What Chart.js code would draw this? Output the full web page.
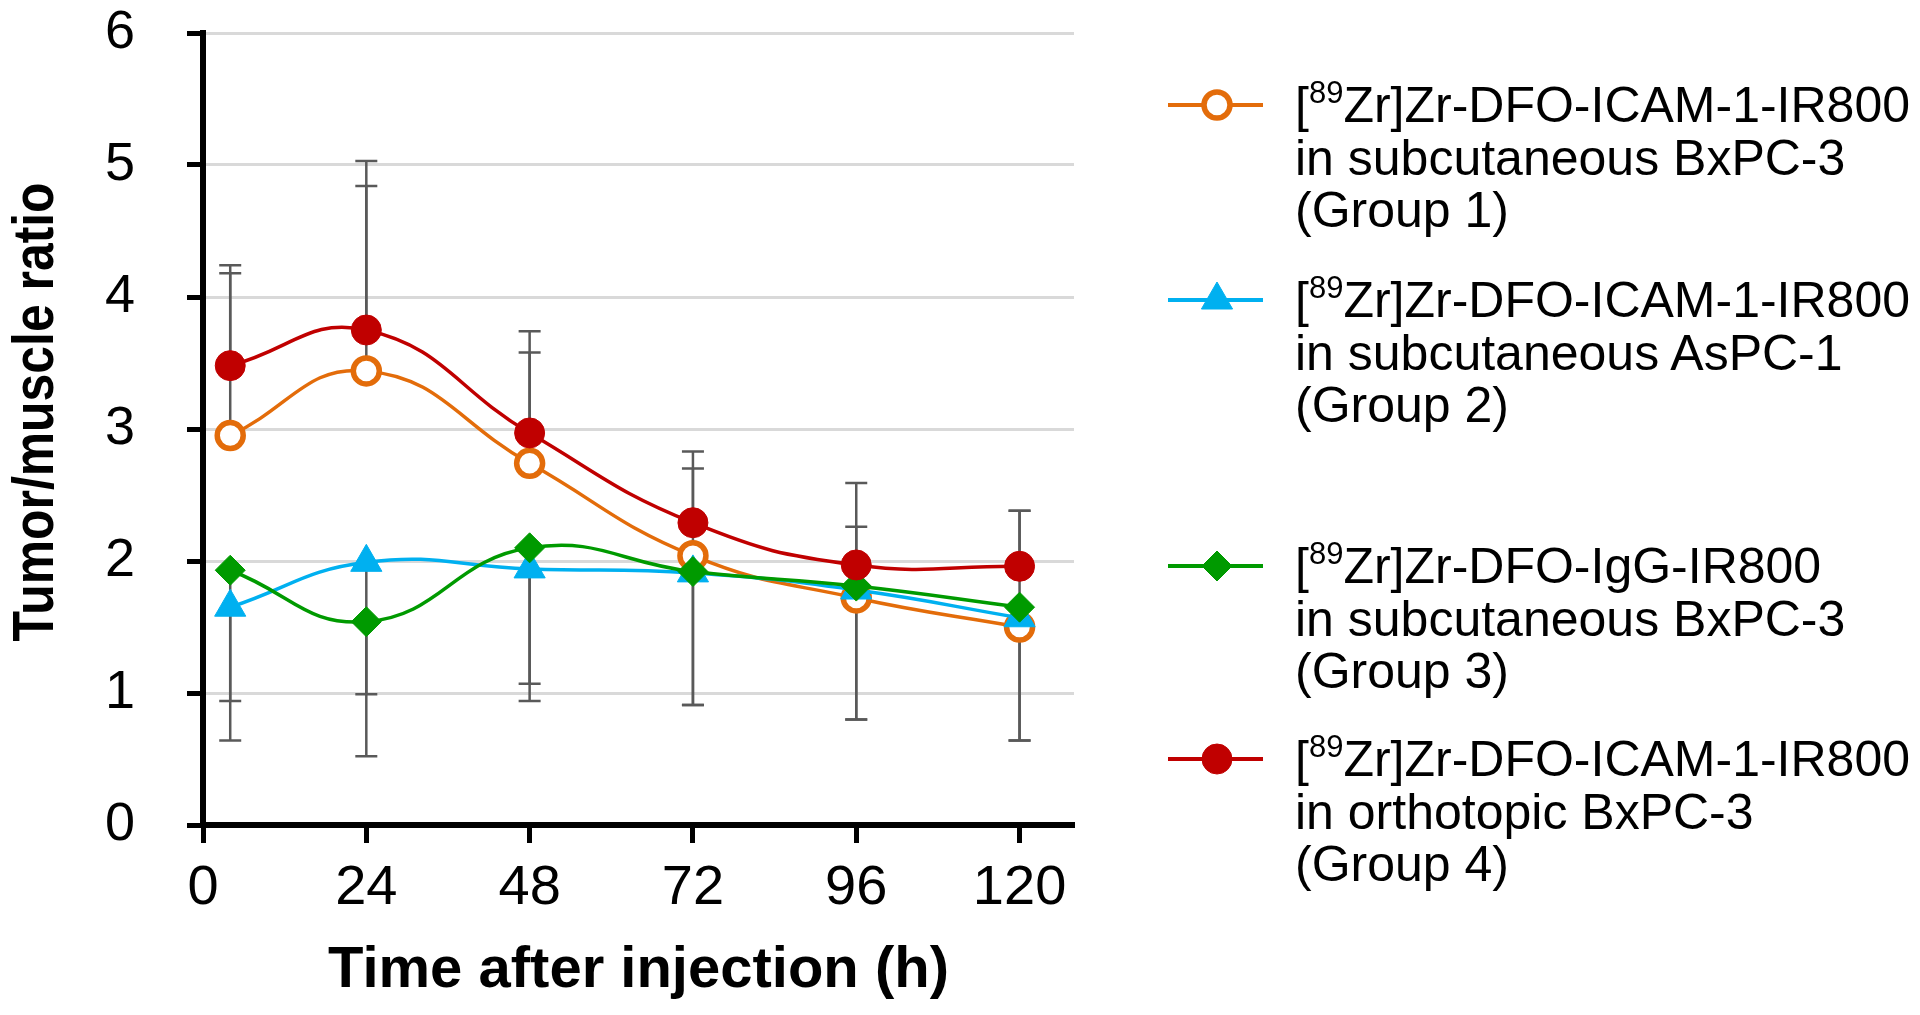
<!DOCTYPE html>
<html lang="en">
<head>
  <meta charset="UTF-8">
  <title>Tumor/muscle ratio</title>
  <script src="https://cdn.jsdelivr.net/npm/chart.js@4.4.0/dist/chart.umd.min.js"></script>
  <style>
    html, body { margin: 0; padding: 0; background: #fff; }
    #wrap { position: relative; width: 1920px; height: 1015px; }
    #myChart { position: absolute; left: 0; top: 0; }
    #legend {
      position: absolute; left: 1163px; top: 0;
      font-family: 'Liberation Sans', Arial, sans-serif;
      font-size: 50px; color: #000;
    }
    .item { position: absolute; left: 0; display: flex; align-items: flex-start; white-space: nowrap; }
    .item canvas { margin-top: 6px; margin-right: 32px; }
    .item .txt { line-height: 52.6px; }
    .item sup { font-size: 0.62em; line-height: 0; vertical-align: baseline; position: relative; top: -0.62em; }
  </style>
</head>
<body>
<div id="wrap">
  <canvas id="myChart" width="1920" height="1015"></canvas>
  <div id="legend"></div>
</div>
<script>
  // 시간(h) / 눈금
  const hours = [4, 24, 48, 72, 96, 120];
  const xTicks = [0, 24, 48, 72, 96, 120];
  const yTicks = [0, 1, 2, 3, 4, 5, 6];

  // tumor/muscle ratio
  const group1 = [2.95, 3.44, 2.74, 2.04, 1.72, 1.50];
  const group2 = [1.65, 1.99, 1.94, 1.91, 1.78, 1.57];
  const group3 = [1.93, 1.54, 2.10, 1.92, 1.81, 1.65];
  const group4 = [3.48, 3.75, 2.97, 2.29, 1.97, 1.96];

  // error bars: upper side for group 1 / 4, lower side for group 2 / 3
  const err1 = [1.23, 1.40, 0.84, 0.66, 0.54, 0.88];
  const err2 = [1.01, 1.47, 1.00, 1.00, 0.98, 0.93];
  const err3 = [0.99, 0.55, 1.03, 1.01, 1.01, 1.01];
  const err4 = [0.76, 1.28, 0.77, 0.54, 0.62, 0.42];

  const names = [
    ['[89Zr]Zr-DFO-ICAM-1-IR800', 'in subcutaneous BxPC-3', '(Group 1)'],
    ['[89Zr]Zr-DFO-ICAM-1-IR800', 'in subcutaneous AsPC-1', '(Group 2)'],
    ['[89Zr]Zr-DFO-IgG-IR800', 'in subcutaneous BxPC-3', '(Group 3)'],
    ['[89Zr]Zr-DFO-ICAM-1-IR800', 'in orthotopic BxPC-3', '(Group 4)']
  ];
  const yTitle = 'Tumor/muscle ratio';

  const legendTops = [79, 274, 540, 733]; // 범례 위치

  const FONT = "'Liberation Sans', Arial, sans-serif";
  const pts = vals => hours.map((h, i) => ({ x: h, y: vals[i] }));

  const errorBars = {
    id: 'errorBars',
    beforeDatasetsDraw(chart) {
      const { ctx, scales: { x, y } } = chart;
      ctx.save();
      ctx.strokeStyle = '#595959';
      ctx.lineWidth = 2.5;
      chart.data.datasets.forEach(ds => {
        ds.data.forEach((p, i) => {
          const px = x.getPixelForValue(p.x);
          const y0 = y.getPixelForValue(p.y);
          const y1 = y.getPixelForValue(p.y + ds.errDir * ds.errors[i]);
          ctx.beginPath();
          ctx.moveTo(px, y0);
          ctx.lineTo(px, y1);
          ctx.moveTo(px - 11, y1);
          ctx.lineTo(px + 11, y1);
          ctx.stroke();
        });
      });
      ctx.restore();
    }
  };

  // y축 제목 (좁은 글꼴 느낌으로)
  const yAxisTitle = {
    id: 'yAxisTitle',
    afterDraw(chart) {
      const { ctx, chartArea } = chart;
      ctx.save();
      ctx.translate(37, (chartArea.top + chartArea.bottom) / 2 - 17);
      ctx.rotate(-Math.PI / 2);
      ctx.scale(0.86, 1);
      ctx.font = 'bold 58px ' + FONT;
      ctx.fillStyle = '#000';
      ctx.textAlign = 'center';
      ctx.textBaseline = 'middle';
      ctx.fillText(yTitle, 0, 0);
      ctx.restore();
    }
  };

  const ctx = document.getElementById('myChart').getContext('2d');
  const config = {
    type: 'line',
    data: {
      datasets: [
        {
          label: names[0].join(' '), lines: names[0], data: pts(group1),
          borderColor: '#E36C0A', borderWidth: 3.5, tension: 0.45,
          pointStyle: 'circle', pointRadius: 13, pointBorderWidth: 5.5,
          pointBackgroundColor: '#FFFFFF', pointBorderColor: '#E36C0A',
          order: 4, errors: err1, errDir: 1
        },
        {
          label: names[1].join(' '), lines: names[1], data: pts(group2),
          borderColor: '#00B0F0', borderWidth: 3.5, tension: 0.45,
          pointStyle: 'triangle', pointRadius: 18, pointBorderWidth: 1,
          pointBackgroundColor: '#00B0F0', pointBorderColor: '#00B0F0',
          order: 3, errors: err2, errDir: -1
        },
        {
          label: names[2].join(' '), lines: names[2], data: pts(group3),
          borderColor: '#009A00', borderWidth: 3.5, tension: 0.45,
          pointStyle: 'rectRot', pointRadius: 15, pointBorderWidth: 1,
          pointBackgroundColor: '#009A00', pointBorderColor: '#009A00',
          order: 2, errors: err3, errDir: -1
        },
        {
          label: names[3].join(' '), lines: names[3], data: pts(group4),
          borderColor: '#C00000', borderWidth: 3.5, tension: 0.45,
          pointStyle: 'circle', pointRadius: 15, pointBorderWidth: 1,
          pointBackgroundColor: '#C00000', pointBorderColor: '#C00000',
          order: 1, errors: err4, errDir: 1
        }
      ]
    },
    options: {
      responsive: false,
      animation: false,
      events: [],
      layout: { padding: { top: 33, right: 846, bottom: 0, left: 0 } },
      plugins: {
        legend: { display: false },
        tooltip: { enabled: false }
      },
      scales: {
        x: {
          type: 'linear', min: 0, max: 128,
          afterBuildTicks: s => { s.ticks = xTicks.map(v => ({ value: v })); },
          afterFit: s => { s.height = 190; s.paddingLeft = 0; s.paddingRight = 0; },
          ticks: { color: '#000', padding: 12, font: { family: FONT, size: 56 } },
          grid: { drawOnChartArea: false, tickLength: 18, tickWidth: 5, tickColor: '#000' },
          border: { color: '#000', width: 6 },
          title: {
            display: true, text: 'Time after injection (h)', color: '#000',
            font: { family: FONT, size: 58, weight: 'bold' }, padding: { top: 0, bottom: 9 }
          }
        },
        y: {
          min: 0, max: 6,
          afterBuildTicks: s => { s.ticks = yTicks.map(v => ({ value: v })); },
          afterFit: s => { s.width = 203; s.paddingTop = 0; s.paddingBottom = 0; },
          ticks: { color: '#000', padding: 52, font: { family: FONT, size: 54 } },
          grid: { color: '#D9D9D9', lineWidth: 3, tickLength: 16, tickWidth: 5, tickColor: '#000' },
          border: { color: '#000', width: 6 },
          title: { display: false }
        }
      }
    },
    plugins: [errorBars, yAxisTitle]
  };

  const myChart = new Chart(ctx, config);

  // HTML 범례
  function drawSymbol(g, ds) {
    g.strokeStyle = ds.borderColor;
    g.lineWidth = 4;
    g.beginPath();
    g.moveTo(5, 20);
    g.lineTo(100, 20);
    g.stroke();
    g.fillStyle = ds.pointBackgroundColor;
    g.strokeStyle = ds.pointBorderColor;
    g.lineWidth = ds.pointBorderWidth;
    const opts = { pointStyle: ds.pointStyle, radius: ds.pointRadius, borderWidth: ds.pointBorderWidth, rotation: 0 };
    if (Chart.helpers && Chart.helpers.drawPoint) {
      Chart.helpers.drawPoint(g, opts, 54, 20);
    } else {
      g.beginPath();
      g.arc(54, 20, ds.pointRadius, 0, Math.PI * 2);
      g.fill();
      g.stroke();
    }
  }

  const box = document.getElementById('legend');
  myChart.data.datasets.forEach((ds, i) => {
    const item = document.createElement('div');
    item.className = 'item';
    item.style.top = legendTops[i] + 'px';
    const c = document.createElement('canvas');
    c.width = 100;
    c.height = 40;
    drawSymbol(c.getContext('2d'), ds);
    const t = document.createElement('div');
    t.className = 'txt';
    t.innerHTML = ds.lines.map(s => s.replace('[89Zr]', '[<sup>89</sup>Zr]')).join('<br>');
    item.appendChild(c);
    item.appendChild(t);
    box.appendChild(item);
  });
</script>
</body>
</html>
